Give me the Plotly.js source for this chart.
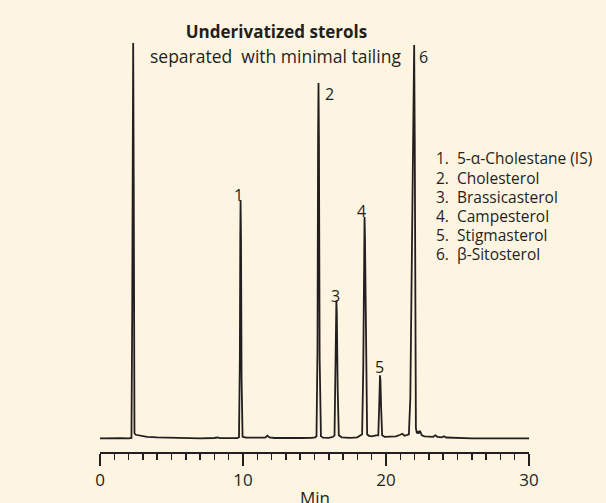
<!DOCTYPE html>
<html>
<head>
<meta charset="utf-8">
<script src="https://cdn.plot.ly/plotly-3.0.1.min.js"></script>
<style>
  html, body { margin: 0; padding: 0; background: #fdf5e2; }
  #chart { width: 606px; height: 503px; }
</style>
</head>
<body>
<div id="chart"></div>
<script>
// Retention time (min) and detector signal (arbitrary units above baseline)
const timeMin = [
  0, 0.5, 1.0, 1.5, 2.0, 2.2,
  2.25, 2.29, 2.32, 2.36, 2.41, 2.5, 2.8, 3.3, 4.0, 5.0, 6.0, 7.0, 8.0, 8.2, 8.4, 9.0, 9.6,
  9.72, 9.78, 9.81, 9.83, 9.86, 9.9, 9.97, 10.2, 11.0, 11.55, 11.7, 11.85, 12.2, 13.0, 14.0, 14.8, 15.05,
  15.14, 15.21, 15.25, 15.28, 15.31, 15.36, 15.45, 15.6, 16.0, 16.3,
  16.4, 16.46, 16.51, 16.53, 16.56, 16.62, 16.7, 16.9, 17.5, 18.0, 18.2,
  18.33, 18.41, 18.47, 18.5, 18.53, 18.6, 18.68, 18.8, 19.0, 19.3,
  19.46, 19.52, 19.56, 19.58, 19.61, 19.66, 19.73, 19.9, 20.3, 20.7, 21.0, 21.15, 21.3, 21.5,
  21.6, 21.7, 21.8, 21.9, 21.97, 22.01, 22.05, 22.09, 22.16, 22.22, 22.28, 22.35, 22.42, 22.5, 22.7, 23.0,
  23.3, 23.45, 23.6, 23.9, 24.05, 24.2, 25.0, 26.0, 27.0, 28.0, 29.0, 30.0
];
const signal = [
  0, 0.2, 0, 0.2, 0, 0.4,
  120, 330, 395, 250, 5, 3.5, 2.5, 1.5, 1, 0.5, 0.3, 0, 0.3, 0.8, 0.2, 0, 0.2,
  1, 80, 200, 238, 200, 60, 1.5, 0.8, 0.4, 0.6, 2.5, 0.8, 0.3, 0, 0.3, 0.5, 1,
  2, 90, 300, 355, 300, 80, 2, 0.6, 0.5, 1.5,
  3, 50, 125, 138, 125, 50, 3, 1, 0.5, 1, 2.5,
  4, 70, 200, 221, 200, 70, 4, 2.5, 2, 3,
  3, 30, 58, 63, 58, 30, 3, 1.5, 1.5, 2, 3.5, 4.5, 2.5, 3,
  4, 40, 180, 340, 393, 300, 100, 10, 5, 7, 4.5, 7.5, 6, 3, 2, 1.5,
  1.5, 3, 1.5, 1, 2, 0.8, 0.3, 0, 0, 0, 0, 0
];

// Peak labels: number and position next to each peak
const peakLabels = ['1', '2', '3', '4', '5', '6'];
const peakLabelX = [9.71, 16.07, 16.46, 18.31, 19.55, 22.65];
const peakLabelY = [243, 344, 142, 227, 71, 381];

// Compound key
const compounds = [
  '5-\u03b1-Cholestane (IS)',
  'Cholesterol',
  'Brassicasterol',
  'Campesterol',
  'Stigmasterol',
  '\u03b2-Sitosterol'
];

// Axis ticks
const tickValues = [0, 10, 20, 30];
const tickLabels = ['0', '10', '20', '30'];

const ink = '#231f20';
const bg = '#fdf5e2';
const font = 'Open Sans, Noto Sans, sans-serif';

const annotations = [];
peakLabels.forEach((lab, i) => {
  annotations.push({
    text: lab, x: peakLabelX[i], y: peakLabelY[i], xref: 'x', yref: 'y',
    showarrow: false, xanchor: 'center', yanchor: 'middle', borderpad: 0,
    font: { family: font, size: 16, color: ink }
  });
});
compounds.forEach((name, i) => {
  annotations.push({
    text: (i + 1) + '.  ' + name, x: 23.45, y: 279.7 - i * 19.2, xref: 'x', yref: 'y',
    showarrow: false, xanchor: 'left', yanchor: 'middle', align: 'left', borderpad: 0,
    font: { family: font, size: 15.5, color: ink }
  });
});
annotations.push({
  text: 'separated  with minimal tailing', x: 12.27, y: 382.5,
  xref: 'x', yref: 'y', showarrow: false, xanchor: 'center', yanchor: 'middle',
  font: { family: font, size: 17.5, color: ink }
});
// x-axis title, placed below the tick labels (partly cut by the page edge, as in the original)
annotations.push({
  text: 'Min', x: 0.5, y: (452 - 497.5) / 412, xref: 'paper', yref: 'paper',
  showarrow: false, xanchor: 'center', yanchor: 'middle',
  font: { family: font, size: 17, color: ink }
});

const trace = {
  x: timeMin, y: signal, type: 'scatter', mode: 'lines',
  line: { color: ink, width: 1.8, shape: 'linear' },
  hoverinfo: 'skip'
};

const layout = {
  width: 606, height: 503,
  margin: { l: 100, r: 77, t: 40, b: 51 },
  paper_bgcolor: bg, plot_bgcolor: bg,
  showlegend: false,
  title: {
    text: '<b>Underivatized sterols</b>',
    x: 276.5 / 606, xref: 'container', xanchor: 'center',
    y: 1 - 32 / 503, yref: 'container', yanchor: 'middle',
    font: { family: font, size: 17, color: ink }
  },
  xaxis: {
    range: [0, 30], fixedrange: true,
    showgrid: false, zeroline: false,
    showline: true, linecolor: ink, linewidth: 1.8,
    tickmode: 'array', tickvals: tickValues, ticktext: tickLabels,
    ticks: 'outside', ticklen: 12, tickwidth: 1.5, tickcolor: ink,
    minor: { dtick: 1, ticks: 'outside', ticklen: 6, tickwidth: 1.5, tickcolor: ink, showgrid: false },
    tickfont: { family: font, size: 17, color: ink }
  },
  yaxis: {
    range: [-13.7, 398], visible: false, fixedrange: true
  },
  annotations: annotations
};

Plotly.newPlot('chart', [trace], layout, { staticPlot: true, displayModeBar: false });
</script>
</body>
</html>
